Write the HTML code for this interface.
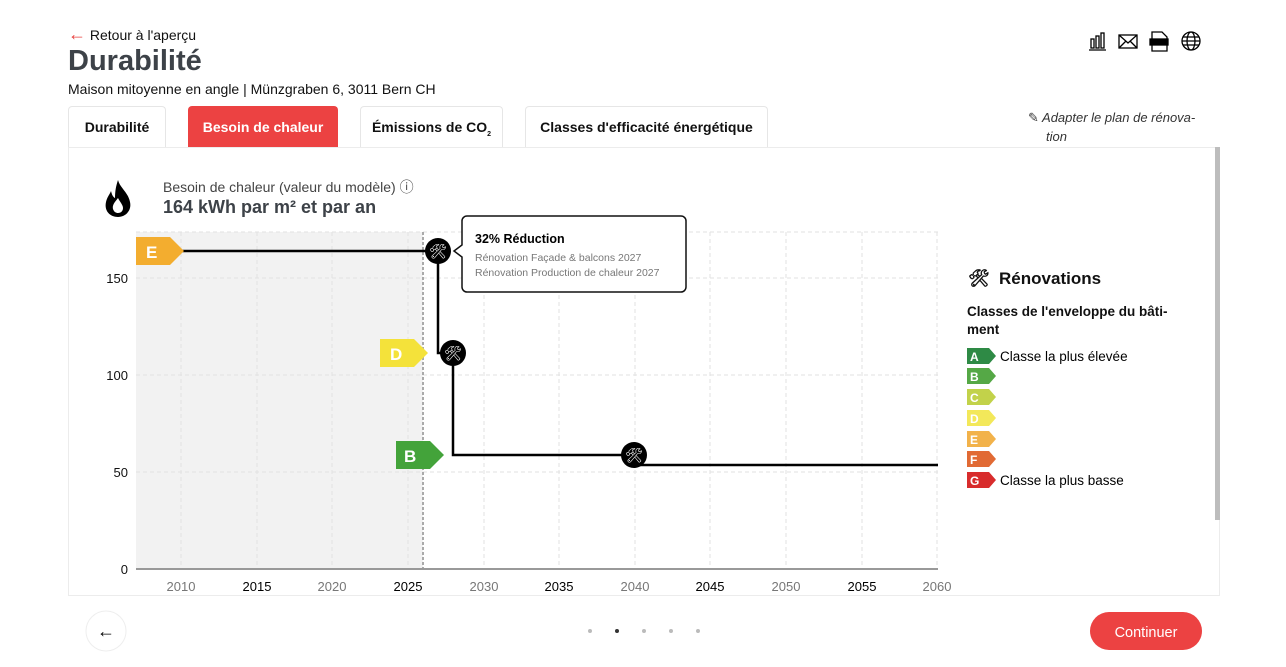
<!DOCTYPE html>
<html><head><meta charset="utf-8"><style>
*{margin:0;padding:0;box-sizing:border-box}
body{width:1286px;height:667px;background:#fff;font-family:"Liberation Sans","DejaVu Sans",sans-serif;color:#111;position:relative;overflow:hidden}
.a{position:absolute;white-space:nowrap}
.tab{position:absolute;top:106px;height:41px;border:1px solid #e6e6e6;border-bottom:none;border-radius:4px 4px 0 0;font-weight:bold;font-size:14px;text-align:center;line-height:41px;background:#fff}
</style></head><body>
<div class="a" style="left:68px;top:24px;font-size:14px"><span style="color:#e8423f;font-size:18px">&#8592;</span> Retour à l'aperçu</div>
<div class="a" style="left:68px;top:45px;font-size:29px;font-weight:bold;color:#3d4248">Durabilité</div>
<div class="a" style="left:68px;top:81px;font-size:14px">Maison mitoyenne en angle | Münzgraben 6, 3011 Bern CH</div>
<div class="tab" style="left:68px;width:98px">Durabilité</div>
<div class="tab" style="left:188px;width:150px;background:#ec4242;border-color:#ec4242;color:#fff">Besoin de chaleur</div>
<div class="tab" style="left:360px;width:143px">Émissions de CO<sub style="font-size:7px">2</sub></div>
<div class="tab" style="left:525px;width:243px">Classes d'efficacité énergétique</div>
<div class="a" style="left:1028px;top:108px;font-size:13px;font-style:italic;color:#333;line-height:19px">&#9998; Adapter le plan de rénova-<br>&nbsp;&nbsp;&nbsp;&nbsp;&nbsp;tion</div>
<div class="a" style="left:68px;top:147px;width:1152px;height:449px;border:1px solid #ececec"></div>
<div class="a" style="left:1215px;top:147px;width:5px;height:373px;background:#bdbdbd"></div>
<div class="a" style="left:163px;top:177px;font-size:14px;color:#444">Besoin de chaleur (valeur du modèle) &#9432;</div>
<div class="a" style="left:163px;top:197px;font-size:18px;font-weight:bold;color:#3d4248">164 kWh par m² et par an</div>
<svg class="a" style="left:0;top:0" width="1286" height="667">
<path d="M118,180c2,8 10,12 12,22c2,9-5,15-12,15c-8,0-14-6-12-15c1-5 4-8 5-11c1,4 2,6 4,7c0-7 1-12 3-18z M118,198c-3,4-6,7-5,11c1,3 3,4 5,4c3,0 5-2 5-5c0-3-3-6-5-10z" fill="#000" fill-rule="evenodd"/>
<g fill="none" stroke="#000" stroke-width="1.3">
<rect x="1091" y="39" width="3" height="9"/><rect x="1096" y="36" width="3" height="12"/><rect x="1101" y="33" width="3" height="15"/><line x1="1089" y1="50" x2="1106" y2="50"/>
<rect x="1119" y="35" width="18" height="13"/><polyline points="1119,35 1128,43 1137,35"/><line x1="1119" y1="48" x2="1126" y2="41"/><line x1="1137" y1="48" x2="1130" y2="41"/>
<path d="M1152,32h10l5,5v14h-15z"/><rect x="1150" y="39" width="18" height="6" fill="#000"/>
<circle cx="1191" cy="41" r="9"/><ellipse cx="1191" cy="41" rx="4" ry="9"/><line x1="1182" y1="41" x2="1200" y2="41"/><line x1="1183" y1="37" x2="1199" y2="37"/><line x1="1183" y1="45" x2="1199" y2="45"/>
</g>
<rect x="136" y="232" width="287" height="337" fill="#f2f2f2"/>
<g stroke="#e2e2e2" stroke-dasharray="4,3">
<line x1="136" y1="232" x2="938" y2="232"/><line x1="136" y1="278" x2="938" y2="278"/><line x1="136" y1="375" x2="938" y2="375"/><line x1="136" y1="472" x2="938" y2="472"/>
<line x1="181" y1="232" x2="181" y2="569"/><line x1="257" y1="232" x2="257" y2="569"/><line x1="332" y1="232" x2="332" y2="569"/><line x1="408" y1="232" x2="408" y2="569"/><line x1="484" y1="232" x2="484" y2="569"/><line x1="559" y1="232" x2="559" y2="569"/><line x1="635" y1="232" x2="635" y2="569"/><line x1="710" y1="232" x2="710" y2="569"/><line x1="786" y1="232" x2="786" y2="569"/><line x1="862" y1="232" x2="862" y2="569"/><line x1="937" y1="232" x2="937" y2="569"/>
</g>
<line x1="423" y1="232" x2="423" y2="569" stroke="#aaa" stroke-width="2" stroke-dasharray="3,2"/>
<line x1="136" y1="569" x2="938" y2="569" stroke="#999" stroke-width="2"/>
<g font-size="13" text-anchor="end" fill="#111"><text x="128" y="283">150</text><text x="128" y="380">100</text><text x="128" y="477">50</text><text x="128" y="574">0</text></g>
<g font-size="13" text-anchor="middle"><text x="181" y="591" fill="#777">2010</text><text x="257" y="591">2015</text><text x="332" y="591" fill="#777">2020</text><text x="408" y="591">2025</text><text x="484" y="591" fill="#777">2030</text><text x="559" y="591">2035</text><text x="635" y="591" fill="#777">2040</text><text x="710" y="591">2045</text><text x="786" y="591" fill="#777">2050</text><text x="862" y="591">2055</text><text x="937" y="591" fill="#777">2060</text></g>
<polyline points="136,251 438,251 438,353 453,353 453,455 634,455 634,465 938,465" fill="none" stroke="#000" stroke-width="2.5"/>
<g font-weight="bold" font-size="17" fill="#fff">
<path d="M136,237h34l14,14l-14,14h-34z" fill="#f3ad2f"/><text x="146" y="258">E</text>
<path d="M380,339h34l14,14l-14,14h-34z" fill="#f4e23a"/><text x="390" y="360">D</text>
<path d="M396,441h34l14,14l-14,14h-34z" fill="#43a33a"/><text x="404" y="462">B</text>
</g>
<g fill="#000"><circle cx="438" cy="251" r="13"/><circle cx="453" cy="353" r="13"/><circle cx="634" cy="455" r="13"/></g>
<g fill="#fff" font-size="14" text-anchor="middle"><text x="438" y="256">&#128736;</text><text x="453" y="358">&#128736;</text><text x="634" y="460">&#128736;</text></g>
<path d="M467,216h214a5,5 0 0 1 5,5v66a5,5 0 0 1-5,5h-214a5,5 0 0 1-5-5v-30l-8-6l8-6v-24a5,5 0 0 1 5-5z" fill="#fff" stroke="#111" stroke-width="1.5"/>
<text x="475" y="243" font-size="12.5" font-weight="bold">32% Réduction</text>
<text x="475" y="261" font-size="10.5" fill="#777">Rénovation Façade &amp; balcons 2027</text>
<text x="475" y="276" font-size="10.5" fill="#777">Rénovation Production de chaleur 2027</text>
<g font-size="12" font-weight="bold" fill="#fff">
<path d="M967,348h22l7,8l-7,8h-22z" fill="#2e8a45"/><text x="970" y="361">A</text>
<path d="M967,368h22l7,8l-7,8h-22z" fill="#55a846"/><text x="970" y="381">B</text>
<path d="M967,389h22l7,8l-7,8h-22z" fill="#c2d24a"/><text x="970" y="402">C</text>
<path d="M967,410h22l7,8l-7,8h-22z" fill="#f3e85a"/><text x="970" y="423">D</text>
<path d="M967,431h22l7,8l-7,8h-22z" fill="#f2b24a"/><text x="970" y="444">E</text>
<path d="M967,451h22l7,8l-7,8h-22z" fill="#e16a34"/><text x="970" y="464">F</text>
<path d="M967,472h22l7,8l-7,8h-22z" fill="#d82c2c"/><text x="970" y="485">G</text>
</g>
<text x="1000" y="361" font-size="13.5">Classe la plus élevée</text>
<text x="1000" y="485" font-size="13.5">Classe la plus basse</text>
<circle cx="106" cy="631" r="20" fill="#fff" stroke="#eee"/>
<text x="106" y="637" font-size="18" text-anchor="middle">&#8592;</text>
<g fill="#bbb"><circle cx="590" cy="631" r="2"/><circle cx="617" cy="631" r="2" fill="#333"/><circle cx="644" cy="631" r="2"/><circle cx="671" cy="631" r="2"/><circle cx="698" cy="631" r="2"/></g>
<rect x="1090" y="612" width="112" height="38" rx="19" fill="#ec4242"/>
<text x="1146" y="637" font-size="14.5" fill="#fff" text-anchor="middle">Continuer</text>
</svg>
<div class="a" style="left:968px;top:269px;font-size:17px;font-weight:bold">&#128736;&nbsp; Rénovations</div>
<div class="a" style="left:967px;top:303px;font-size:13.5px;font-weight:bold;line-height:18px">Classes de l'enveloppe du bâti-<br>ment</div>
</body></html>
